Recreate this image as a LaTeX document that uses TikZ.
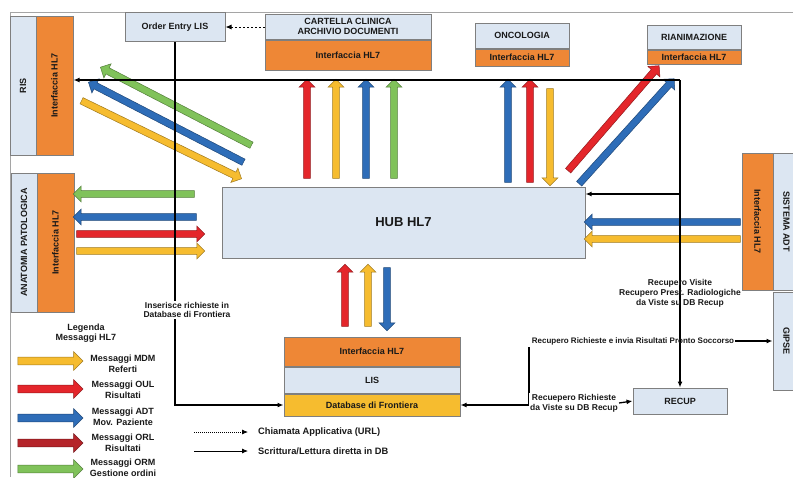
\documentclass[tikz,border=0pt]{standalone}
\usepackage{fontspec}
\usepackage{graphicx}
\setmainfont{Liberation Sans}
\usetikzlibrary{arrows.meta,shapes.arrows,calc}
\definecolor{lb}{HTML}{DCE6F2}
\definecolor{orng}{HTML}{EE8736}
\definecolor{ylw}{HTML}{F6BC2F}
\definecolor{rd}{HTML}{E4262B}
\definecolor{bl}{HTML}{2E6DB8}
\definecolor{drd}{HTML}{B5242A}
\definecolor{grn}{HTML}{80C25A}
\definecolor{bord}{HTML}{7F7F7F}
\newcounter{fac}
\tikzset{
 box/.style={draw=bord, line width=1pt, inner sep=0pt, font=\fontsize{9}{10}\selectfont\bfseries, align=center, text=black!90},
 lbbox/.style={box, fill=lb},
 orbox/.style={box, fill=orng},
 fat/.style={single arrow, draw=#1!65!black, fill=#1, line width=0.5pt, inner xsep=0pt, inner ysep=3.2pt, single arrow head extend=4.5pt, minimum width=0pt},
 lfat/.style={fat=#1, inner ysep=3.6pt, single arrow head extend=5.5pt},
 conn/.style={line width=1.3pt, -{Latex[length=6pt,width=5pt]}},
 lbl/.style={font=\fontsize{8.5}{9.8}\selectfont\bfseries, align=center, inner sep=1pt, text=black!90},
 leglbl/.style={lbl, font=\fontsize{9}{10.5}\selectfont\bfseries},
}
\newcommand\fatarr[4][fat]{\stepcounter{fac}\path let \p1=(#3), \p2=(#4), \n1={atan2(\y2-\y1,\x2-\x1)}, \n2={veclen(\x2-\x1,\y2-\y1)} in node[#1=#2, rotate=\n1, minimum height=\n2] (fa\arabic{fac}) at ($(#3)!0.5!(#4)$) {};}
\begin{document}
\begin{tikzpicture}[x=1pt,y=-1pt]
\useasboundingbox (0,0) rectangle (793,477);
\fill[white] (0,0) rectangle (793,477);
\draw[bord!70, line width=1pt] (793,12) -- (10,12) -- (10,477);
% boxes
\node[lbbox, minimum width=26, minimum height=139] (risb) at (23,85.5) {\rotatebox{90}{RIS}};
\node[orbox, minimum width=37, minimum height=139] (risi) at (54.5,85.5) {\rotatebox{90}{Interfaccia HL7}};
\node[lbbox, minimum width=100, minimum height=29] (oe) at (175,27) {Order Entry LIS};
\node[lbbox, minimum width=166, minimum height=25] (cc) at (348,26.5) {CARTELLA CLINICA\\ARCHIVIO DOCUMENTI};
\node[orbox, minimum width=166, minimum height=30, anchor=north] (cci) at (cc.south) {Interfaccia HL7};
\node[lbbox, minimum width=94, minimum height=25] (onc) at (522,35.5) {ONCOLOGIA};
\node[orbox, minimum width=94, minimum height=17, anchor=north] (onci) at (onc.south) {Interfaccia HL7};
\node[lbbox, minimum width=94, minimum height=24] (ria) at (694,37) {RIANIMAZIONE};
\node[orbox, minimum width=94, minimum height=14, anchor=north] (riai) at (ria.south) {Interfaccia HL7};
\node[lbbox, minimum width=363, minimum height=71, font=\fontsize{13}{15}\selectfont\bfseries] (hub) at (403.5,222.5) {HUB HL7};
\node[lbbox, minimum width=26, minimum height=139] (apb) at (24,242.5) {\rotatebox{90}{ANATOMIA PATOLOGICA}};
\node[orbox, minimum width=37, minimum height=139] (api) at (55.5,242.5) {\rotatebox{90}{Interfaccia HL7}};
\node[orbox, minimum width=31, minimum height=137] (adti) at (757.5,221.5) {\rotatebox{-90}{Interfaccia HL7}};
\node[lbbox, minimum width=27, minimum height=137] (adtb) at (786.5,221.5) {\rotatebox{-90}{SISTEMA ADT}};
\node[lbbox, minimum width=27, minimum height=98] (gipse) at (786.5,341) {\rotatebox{-90}{GIPSE}};
\node[orbox, minimum width=176, minimum height=29] (lisi) at (372,351.5) {Interfaccia HL7};
\node[lbbox, minimum width=176, minimum height=26, anchor=north] (lis) at (lisi.south) {LIS};
\node[box, fill=ylw, minimum width=176, minimum height=22, anchor=north] (db) at (lis.south) {Database di Frontiera};
\node[lbbox, minimum width=94, minimum height=26] (recup) at (680,401) {RECUP};
% fat arrows
\fatarr{grn}{253,146}{102,68}
\fatarr{bl}{245,163}{90,83}
\fatarr{ylw}{80,100}{240,178}
\fatarr{rd}{307,180}{307,81}
\fatarr{ylw}{336,180}{336,81}
\fatarr{bl}{366,180}{366,81}
\fatarr{grn}{394,180}{394,81}
\fatarr{bl}{508,184}{508,81}
\fatarr{rd}{530,184}{530,81}
\fatarr{ylw}{550,87}{550,184}
\fatarr{rd}{567,172}{658,67}
\fatarr{bl}{578,185}{673,80}
\fatarr{bl}{742,222}{586,222}
\fatarr{ylw}{742,239}{586,239}
\fatarr{grn}{196,194}{75,194}
\fatarr{bl}{198,217}{75,217}
\fatarr{rd}{75,234}{203,234}
\fatarr{ylw}{75,251}{203,251}
\fatarr{rd}{345,328}{345,266}
\fatarr{ylw}{368,328}{368,266}
\fatarr{bl}{387,266}{387,329}
% connectors
\draw[conn, line width=0.9pt, dash pattern=on 1.5pt off 2.5pt] (cc.west |- oe.east) -- (oe.east);
\coordinate (tr) at (680,80);
\coordinate (j1) at (680,194);
\draw[conn] (tr) -- (risi.east |- tr);
\draw[conn] (tr) -- (recup.north);
\draw[conn] (j1) -- (hub.east |- j1);
\draw[conn] (oe.south) |- (db.west);
\node[lbl, fill=white] (ins) at (187,310) {Inserisce richieste in\\Database di Frontiera};
\node[lbl] (recv) at (680,293.5) {Recupero Visite\\Recupero Prest. Radiologiche\\da Viste su DB Recup};
\node[lbl, font=\fontsize{8}{9}\selectfont\bfseries] (rrs) at (633,341) {Recupero Richieste e invia Risultati Pronto Soccorso};
\draw[conn] (rrs.east) -- (gipse.west |- rrs.east);
\coordinate (c1) at (529,347);
\draw[conn] (c1) |- (db.east);
\node[lbl, fill=white] (rrd) at (574,403) {Recuepero Richieste\\da Viste su DB Recup};
\draw[conn] (rrd.east) -- (recup.west);
% legend
\node[leglbl] (leg) at (86,333) {Legenda\\Messaggi HL7};
\fatarr[lfat]{ylw}{16,361}{81,361}
\fatarr[lfat]{rd}{16,389}{81,389}
\fatarr[lfat]{bl}{16,418}{81,418}
\fatarr[lfat]{drd}{16,443}{81,443}
\fatarr[lfat]{grn}{16,469}{81,469}
\node[leglbl] (l1) at (123,364) {Messaggi MDM\\Referti};
\node[leglbl] (l2) at (123,390) {Messaggi OUL\\Risultati};
\node[leglbl] (l3) at (123,417) {Messaggi ADT\\Mov. Paziente};
\node[leglbl] (l4) at (123,443) {Messaggi ORL\\Risultati};
\node[leglbl] (l5) at (123,468) {Messaggi ORM\\Gestione ordini};
\coordinate (d1) at (194,432);
\coordinate (d2) at (248,432);
\coordinate (s1) at (194,451);
\coordinate (s2) at (248,451);
\draw[conn, line width=0.8pt, dash pattern=on 1pt off 1pt] (d1) -- (d2);
\draw[conn, line width=0.8pt] (s1) -- (s2);
\node[lbl, anchor=west, font=\fontsize{9.3}{10}\selectfont\bfseries] (t1) at (257,432) {Chiamata Applicativa (URL)};
\node[lbl, anchor=west, font=\fontsize{9.3}{10}\selectfont\bfseries] (t2) at (257,451) {Scrittura/Lettura diretta in DB};
\end{tikzpicture}
\end{document}
